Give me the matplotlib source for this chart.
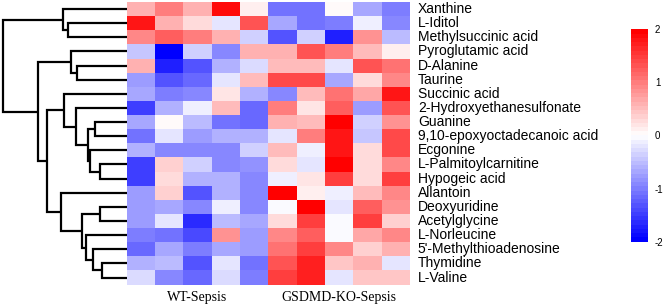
#heatmap with row dendrogram, metabolites WT vs GSDMD-KO sepsis
import numpy as np
import matplotlib
matplotlib.use('Agg')
import matplotlib.pyplot as plt
from matplotlib.colors import LinearSegmentedColormap

plt.rcParams['axes.unicode_minus'] = False

metabolites = ['Xanthine', 'L-Iditol', 'Methylsuccinic acid', 'Pyroglutamic acid',
               'D-Alanine', 'Taurine', 'Succinic acid', '2-Hydroxyethanesulfonate',
               'Guanine', '9,10-epoxyoctadecanoic acid', 'Ecgonine',
               'L-Palmitoylcarnitine', 'Hypogeic acid', 'Allantoin', 'Deoxyuridine',
               'Acetylglycine', 'L-Norleucine', "5'-Methylthioadenosine",
               'Thymidine', 'L-Valine']
groups = ['WT-Sepsis', 'GSDMD-KO-Sepsis']
samples_per_group = 5

#z-scores, one row per metabolite, 10 samples
zscores = np.array([
  [ 0.6,  1.0,  0.6,  1.9,  0.1, -1.1, -1.1,  0.05, -0.7, -1.0],
  [ 1.8,  0.6,  0.3, -0.2,  1.3, -0.7, -1.1, -1.0, -0.15, -0.9],
  [ 0.9,  1.2,  1.0,  0.6, -0.35, -1.3, -0.35, -1.7,  0.8, -0.5],
  [-0.45, -2.0, -0.4, -0.9,  0.6,  0.6,  1.3,  1.0,  0.5,  0.15],
  [ 0.6, -1.7, -1.3, -0.6, -0.3,  0.55,  0.55, -0.2,  1.3,  1.1],
  [-0.8, -1.3, -1.2, -0.2,  0.5,  1.4,  1.4, -0.7,  0.3,  0.9],
  [-0.7, -1.0, -0.9,  0.2, -0.6, -0.9,  0.5,  1.1,  0.7,  1.8],
  [-1.5, -0.6, -0.1,  0.5, -1.2,  1.0,  0.2,  1.2, -0.8,  1.3],
  [-0.7,  0.05, -0.5, -1.1, -1.2,  0.6,  0.5,  2.0, -0.35,  0.8],
  [-1.1, -0.2, -0.8, -0.6, -0.6, -0.2,  1.0,  1.8, -0.45,  1.4],
  [-0.6, -0.9, -0.9, -0.9, -0.4,  0.5, -0.1,  1.8,  0.3,  1.4],
  [-1.5,  0.35, -0.35, -0.9, -0.85,  0.3, -0.2,  2.0,  0.3,  0.9],
  [-1.5,  0.25, -0.6, -0.6, -0.9, -0.15,  0.2,  1.5,  0.3,  1.5],
  [-0.8,  0.35, -1.3, -0.6, -0.9,  2.0,  0.1, -0.15,  0.5,  0.9],
  [-0.75, -0.65, -0.9, -0.15, -0.95, -0.05,  2.0, -0.2,  1.2,  0.8],
  [-0.8, -0.2, -1.6, -0.5, -0.65,  0.3,  1.5, -0.05,  1.5,  0.35],
  [-1.0, -1.1, -1.4,  0.8, -0.8,  0.9,  1.2, -0.05,  0.7,  0.9],
  [-1.2, -0.7, -1.0, -0.7, -0.8,  1.1,  1.5,  0.9,  0.35,  0.6],
  [-0.6, -0.55, -1.3, -0.2, -1.1,  1.3,  1.7,  0.4,  0.6, -0.2],
  [-0.25, -0.9, -1.2, -0.3, -1.0,  1.5,  1.7, -0.2,  0.4,  0.45],
])

#row clustering, scipy style: (node a, node b, height), new nodes numbered from 20
merges = [
  (1, 2, 175), (0, 20, 190), (4, 5, 150), (3, 22, 167),
  (8, 9, 95), (11, 12, 80), (10, 25, 110), (24, 26, 115),
  (7, 27, 152), (6, 28, 187), (14, 15, 80), (18, 19, 75),
  (17, 31, 100), (16, 32, 123), (30, 33, 133), (13, 34, 197),
  (29, 35, 240), (23, 36, 267), (21, 37, 372),
]

W, H = 664, 307
fig = plt.figure(figsize=(W / 100, H / 100), dpi=100)

hm_left, hm_right, hm_top, hm_bot = 126.7, 410, 2, 284.6
ax = fig.add_axes([hm_left / W, 1 - hm_bot / H, (hm_right - hm_left) / W, (hm_bot - hm_top) / H])
dax = fig.add_axes([0, 1 - hm_bot / H, hm_left / W, (hm_bot - hm_top) / H])
cax = fig.add_axes([630.7 / W, 1 - 241.7 / H, 17.3 / W, 212.4 / H])

cmap = LinearSegmentedColormap.from_list('bwr50', ['#0000ff', '#ffffff', '#ff0000'], N=50)
nrow, ncol = zscores.shape
mesh = ax.pcolormesh(np.arange(ncol + 1), np.arange(nrow + 1), zscores,
                     cmap=cmap, vmin=-2, vmax=2)
ax.set_xlim(0, ncol)
ax.set_ylim(nrow, 0)
ax.axis('off')

for i, name in enumerate(metabolites):
  ax.text(ncol + 0.28, i + 0.5, name, ha='left', va='center',
          fontsize=10, family='Liberation Sans')

for g, name in enumerate(groups):
  ax.text(g * samples_per_group + samples_per_group / 2, nrow + 0.88, name,
          ha='center', va='center', fontsize=10, family='Liberation Serif',
          clip_on=False)

#dendrogram
pos = {i: i + 0.5 for i in range(nrow)}
hgt = {i: 0 for i in range(nrow)}
for k, (a, b, h) in enumerate(merges):
  node = nrow + k
  ya, yb = pos[a], pos[b]
  dax.plot([hgt[a], h, h, hgt[b]], [ya, ya, yb, yb], color='black', lw=1.6,
           solid_joinstyle='miter', solid_capstyle='butt')
  pos[node] = (ya + yb) / 2
  hgt[node] = h
dax.set_xlim(380, 0)
dax.set_ylim(nrow, 0)
dax.axis('off')

cb = fig.colorbar(mesh, cax=cax, ticks=[-2, -1, 0, 1, 2])
cb.outline.set_visible(False)
cb.ax.tick_params(length=0, labelsize=7, pad=5)
for t in cb.ax.get_yticklabels():
  t.set_family('Liberation Sans')

fig.savefig('out.png', dpi=100)
